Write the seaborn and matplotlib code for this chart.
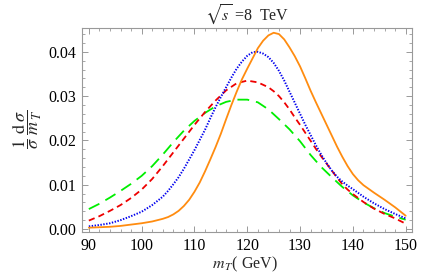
import matplotlib
matplotlib.use("Agg")
import matplotlib.pyplot as plt
import seaborn as sns
from matplotlib.ticker import MultipleLocator

# m_T grid (GeV) and normalised distributions
mt_orange = [90, 92, 94, 96, 98, 100, 102, 104, 105, 106, 107, 108, 109, 110, 111, 112, 113, 114,
             115, 116, 117, 118, 119, 120, 121, 122, 123, 124, 125, 126, 127, 128, 129, 130, 131,
             132, 133, 134, 135, 136, 137, 138, 139, 140, 141, 142, 144, 146, 148, 150]
orange = [0.0003, 0.0004, 0.0005, 0.0007, 0.0010, 0.0013, 0.0017, 0.0023, 0.0027, 0.0033, 0.0041,
          0.0052, 0.0066, 0.0084, 0.0105, 0.0130, 0.0157, 0.0185, 0.0215, 0.0248, 0.0280, 0.0310,
          0.0338, 0.0362, 0.0385, 0.0408, 0.0425, 0.0437, 0.0443, 0.0440, 0.0428, 0.0410, 0.0390,
          0.0367, 0.0340, 0.0312, 0.0286, 0.0261, 0.0236, 0.0211, 0.0186, 0.0163, 0.0142, 0.0124,
          0.0110, 0.0099, 0.0082, 0.0066, 0.0049, 0.0030]

mt_blue = [90, 92, 94, 96, 98, 100, 102, 104, 105, 106, 107, 108, 109, 110, 111, 112, 113, 114, 115,
           116, 117, 118, 119, 120, 121, 122, 123, 124, 125, 126, 127, 128, 129, 130, 131, 132, 133,
           134, 135, 136, 137, 138, 139, 140, 142, 144, 146, 148, 150]
blue = [0.0006, 0.0009, 0.0013, 0.0020, 0.0029, 0.0039, 0.0054, 0.0073, 0.0086, 0.0101, 0.0117,
        0.0136, 0.0157, 0.0178, 0.0201, 0.0224, 0.0250, 0.0275, 0.0298, 0.0320, 0.0342, 0.0362,
        0.0378, 0.0391, 0.0399, 0.0400, 0.0396, 0.0388, 0.0375, 0.0357, 0.0335, 0.0310, 0.0285,
        0.0260, 0.0235, 0.0212, 0.0189, 0.0168, 0.0149, 0.0132, 0.0118, 0.0107, 0.0098, 0.0090,
        0.0073, 0.0058, 0.0045, 0.0034, 0.0024]

mt_red = [90, 92, 94, 96, 98, 100, 102, 104, 106, 108, 110, 112, 114, 116, 118, 120, 122, 124, 125,
          126, 127, 128, 129, 130, 131, 132, 133, 134, 135, 136, 137, 138, 139, 140, 142, 144, 146,
          148, 150]
red = [0.0019, 0.0029, 0.0041, 0.0054, 0.0070, 0.0089, 0.0113, 0.0142, 0.0173, 0.0204, 0.0235,
       0.0264, 0.0290, 0.0313, 0.0329, 0.0335, 0.0331, 0.0320, 0.0311, 0.0300, 0.0286, 0.0270,
       0.0252, 0.0235, 0.0217, 0.0199, 0.0181, 0.0164, 0.0148, 0.0132, 0.0116, 0.0101, 0.0089,
       0.0079, 0.0061, 0.0046, 0.0034, 0.0024, 0.0012]

mt_green = [90, 92, 94, 96, 98, 100, 102, 104, 106, 108, 110, 112, 114, 116, 118, 120, 122, 124,
            126, 128, 130, 132, 134, 136, 138, 140, 142, 144, 146, 148, 150]
green = [0.0045, 0.0057, 0.0071, 0.0086, 0.0102, 0.0120, 0.0142, 0.0168, 0.0196, 0.0222, 0.0244,
         0.0262, 0.0277, 0.0287, 0.0292, 0.0292, 0.0286, 0.0270, 0.0248, 0.0225, 0.0198, 0.0167,
         0.0140, 0.0117, 0.0095, 0.0076, 0.0060, 0.0047, 0.0036, 0.0028, 0.0021]

sns.set_style("ticks")
plt.rcParams['font.family'] = ['Liberation Serif', 'DejaVu Serif']
plt.rcParams['mathtext.fontset'] = 'stix'
plt.rcParams['lines.scale_dashes'] = False

fig = plt.figure(figsize=(4.36, 2.76), dpi=100)
ax = fig.add_axes([0.188, 0.159, 0.757, 0.740])

# green long dash, red dash, blue dots, orange solid
sns.lineplot(x=mt_green, y=green, ax=ax, color='#00ee00', linewidth=1.3, linestyle=(0, (8.5, 5)))
sns.lineplot(x=mt_red, y=red, ax=ax, color='#ee0000', linewidth=1.3, linestyle=(0, (4.5, 3)))
sns.lineplot(x=mt_blue, y=blue, ax=ax, color='#0000ee', linewidth=1.4, linestyle=(0, (1.0, 1.1)))
sns.lineplot(x=mt_orange, y=orange, ax=ax, color='#ff8c10', linewidth=1.3)

ax.set_xlim(88.7, 151.2)
ax.set_ylim(-0.0007, 0.0454)
ax.xaxis.set_major_locator(MultipleLocator(10))
ax.xaxis.set_minor_locator(MultipleLocator(2))
ax.yaxis.set_major_locator(MultipleLocator(0.01))
ax.yaxis.set_minor_locator(MultipleLocator(0.002))
ax.yaxis.set_major_formatter(matplotlib.ticker.FormatStrFormatter('%.2f'))
ax.tick_params(which='both', direction='in', top=True, right=True, color='#999999',
               labelsize=11.5, labelcolor='black', pad=4)
ax.tick_params(which='major', length=4, width=0.7)
ax.tick_params(which='minor', length=2, width=0.6)
for s in ax.spines.values():
    s.set_color('#999999')
    s.set_linewidth(0.8)

ax.set_xlabel('')
ax.set_ylabel('')
ax.set_title(r'$\sqrt{s}$ =8  TeV', fontsize=11.5, pad=5)
fig.text(0.562, 0.008, r'$m_{\,T}$( GeV)', ha='center', va='bottom', fontsize=11.5)
fig.text(0.062, 0.53, r'$\dfrac{1}{\sigma}\;\dfrac{\mathrm{d}\,\sigma}{m_{\,T}}$', ha='center',
         va='center', fontsize=13, rotation=90)

fig.savefig('out.png', dpi=100)
